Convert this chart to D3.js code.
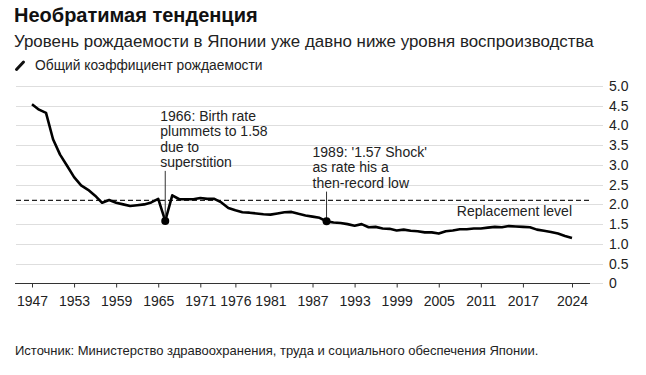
<!DOCTYPE html>
<html>
<head>
<meta charset="utf-8">
<script src="https://cdn.jsdelivr.net/npm/d3@7"></script>
<style>
  body { margin: 0; background: #fff; }
  svg { font-family: "Liberation Sans", Arial, sans-serif; }
</style>
</head>
<body>
<div id="chart"></div>
<script>
// Total fertility rate, Japan, 1947-2024
const years = d3.range(1947, 2025);
const rates = [4.54, 4.40, 4.32, 3.65, 3.26, 2.98, 2.69, 2.48, 2.37, 2.22,
  2.04, 2.11, 2.04, 2.00, 1.96, 1.98, 2.00, 2.05, 2.14, 1.58,
  2.23, 2.13, 2.13, 2.13, 2.16, 2.14, 2.14, 2.05, 1.91, 1.85,
  1.80, 1.79, 1.77, 1.75, 1.74, 1.77, 1.80, 1.81, 1.76, 1.72,
  1.69, 1.66, 1.57, 1.54, 1.53, 1.50, 1.46, 1.50, 1.42, 1.43,
  1.39, 1.38, 1.34, 1.36, 1.33, 1.32, 1.29, 1.29, 1.26, 1.32,
  1.34, 1.37, 1.37, 1.39, 1.39, 1.41, 1.43, 1.42, 1.45, 1.44,
  1.43, 1.42, 1.36, 1.33, 1.30, 1.26, 1.20, 1.15];
const xTicks = [1947, 1953, 1959, 1965, 1971, 1976, 1981, 1987, 1993, 1999, 2005, 2011, 2017, 2024];
const yTicks = [0, 0.5, 1, 1.5, 2, 2.5, 3, 3.5, 4, 4.5, 5];
const replacement = 2.1;
const notes = [
  {year: 1966, top: 116, lines: ["1966: Birth rate", "plummets to 1.58", "due to", "superstition"]},
  {year: 1989, top: 152, lines: ["1989: '1.57 Shock'", "as rate his a", "then-record low"]}
];

const width = 646, height = 375;
const svg = d3.select("#chart").append("svg")
    .attr("width", width)
    .attr("height", height);

const x = d3.scaleLinear().domain([1947, 2024]).range([32, 572]);
const y = d3.scaleLinear().domain([0, 5]).range([283.3, 86]);

// Titles
svg.append("text").attr("x", 14).attr("y", 22)
    .style("font-size", "20px").style("font-weight", "bold").attr("fill", "#111")
    .text("Необратимая тенденция");
svg.append("text").attr("x", 14).attr("y", 47)
    .style("font-size", "16.9px").attr("fill", "#222")
    .text("Уровень рождаемости в Японии уже давно ниже уровня воспроизводства");

// Legend
svg.append("line").attr("x1", 16.5).attr("y1", 69.5).attr("x2", 23.5).attr("y2", 62)
    .attr("stroke", "#111").attr("stroke-width", 3).attr("stroke-linecap", "round");
svg.append("text").attr("x", 35).attr("y", 70)
    .style("font-size", "13.8px").attr("fill", "#222")
    .text("Общий коэффициент рождаемости");

// Grid
svg.append("g").selectAll("line")
    .data(yTicks).enter().append("line")
    .attr("x1", 16).attr("x2", 603)
    .attr("y1", d => Math.round(y(d)) + 0.5).attr("y2", d => Math.round(y(d)) + 0.5)
    .attr("stroke", "#dedede").attr("stroke-width", 1);

// Y axis on the right
const yAxis = svg.append("g")
    .attr("transform", "translate(609,0)")
    .call(d3.axisRight(y).tickValues(yTicks).tickSize(0).tickPadding(0)
        .tickFormat(d => d === 0 ? "0" : d3.format(".1f")(d)));
yAxis.select(".domain").remove();
yAxis.selectAll("text").style("font-size", "14px").attr("fill", "#222")
    .style("font-family", "'Liberation Sans', Arial, sans-serif");

// X axis
const xAxis = svg.append("g")
    .attr("transform", `translate(0,${Math.round(y(0)) + 0.5})`)
    .call(d3.axisBottom(x).tickValues(xTicks).tickSize(4).tickPadding(9)
        .tickFormat(d3.format("d")));
xAxis.select(".domain").attr("d", "M15,0H590").attr("stroke", "#333");
xAxis.selectAll(".tick line").attr("stroke", "#333");
xAxis.selectAll("text").style("font-size", "14px").attr("fill", "#222")
    .style("font-family", "'Liberation Sans', Arial, sans-serif");

// Replacement level
svg.append("line")
    .attr("x1", 16).attr("x2", 590)
    .attr("y1", y(replacement)).attr("y2", y(replacement))
    .attr("stroke", "#222").attr("stroke-width", 1.3)
    .attr("stroke-dasharray", "5,3");
svg.append("text").attr("x", 572).attr("y", y(replacement) + 16)
    .attr("text-anchor", "end").style("font-size", "14px").attr("fill", "#222")
    .text("Replacement level");

// Line
const data = years.map((yr, i) => ({year: yr, rate: rates[i]}));
svg.append("path")
    .datum(data)
    .attr("fill", "none")
    .attr("stroke", "#000")
    .attr("stroke-width", 2.6)
    .attr("stroke-linejoin", "round")
    .attr("d", d3.line().x(d => x(d.year)).y(d => y(d.rate)));

// Annotations
notes.forEach(n => {
  const v = rates[years.indexOf(n.year)];
  const lastY = n.top + (n.lines.length - 1) * 15.3;
  svg.append("line")
      .attr("x1", x(n.year)).attr("x2", x(n.year))
      .attr("y1", lastY + 9).attr("y2", y(v))
      .attr("stroke", "#333").attr("stroke-width", 1);
  svg.append("circle")
      .attr("cx", x(n.year)).attr("cy", y(v)).attr("r", 4)
      .attr("fill", "#000");
  const t = svg.append("text")
      .attr("x", x(n.year) - 5).attr("y", n.top + 5)
      .style("font-size", "14px").attr("fill", "#222");
  n.lines.forEach((l, i) => {
    t.append("tspan").attr("x", x(n.year) - 5 - (n.year === 1989 ? 9 : 0))
        .attr("dy", i === 0 ? 0 : 15.3).text(l);
  });
});

// Source
svg.append("text").attr("x", 15).attr("y", 355)
    .style("font-size", "13px").attr("fill", "#222")
    .text("Источник: Министерство здравоохранения, труда и социального обеспечения Японии.");
</script>
</body>
</html>
